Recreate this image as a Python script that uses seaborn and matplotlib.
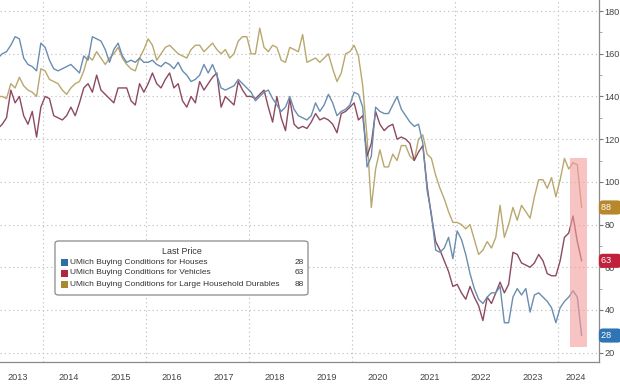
import numpy as np
import pandas as pd
import matplotlib
matplotlib.use("Agg")
import matplotlib.pyplot as plt
from matplotlib.patches import Rectangle, FancyBboxPatch
import matplotlib.transforms as mtransforms
import seaborn as sns

# ---------------- data (monthly, Feb 2013 .. Jun 2024) ----------------
start_year, start_month = 2013, 2

houses = [
    158, 160, 161, 164, 168, 167, 158, 155, 154, 152, 165,
    163, 157, 153, 152, 153, 154, 155, 153, 151, 159, 157, 168,
    167, 166, 162, 156, 162, 165, 159, 156, 157, 156, 158, 156,
    156, 157, 155, 154, 156, 155, 153, 156, 152, 150, 147, 148,
    150, 155, 151, 155, 150, 144, 143, 144, 145, 148, 146, 144,
    142, 138, 140, 142, 143, 139, 136, 133, 135, 140, 134, 131,
    130, 129, 131, 137, 133, 136, 141, 137, 131, 133, 134, 136,
    142, 141, 135, 107, 112, 135, 133, 132, 132, 136, 140, 134,
    131, 128, 126, 127, 118, 96, 85, 68, 67, 69, 74, 64,
    77, 73, 66, 57, 50, 45, 43, 46, 48, 48, 51, 34,
    34, 46, 50, 47, 50, 39, 47, 48, 46, 44, 41, 34,
    41, 44, 46, 49, 46, 28,
]

vehicles = [
    125, 127, 130, 143, 137, 140, 131, 127, 133, 121, 135,
    140, 139, 131, 130, 129, 131, 135, 131, 137, 144, 146, 142,
    150, 143, 141, 139, 137, 144, 144, 144, 138, 136, 146, 142,
    146, 151, 146, 144, 148, 151, 144, 146, 138, 135, 140, 137,
    147, 143, 146, 149, 151, 135, 140, 138, 136, 147, 143, 140,
    140, 139, 141, 143, 135, 128, 140, 130, 124, 139, 127, 125,
    126, 125, 128, 132, 129, 130, 129, 127, 123, 132, 133, 135,
    137, 129, 131, 112, 118, 133, 127, 124, 126, 127, 120, 121,
    120, 118, 110, 114, 117, 98, 84, 72, 68, 63, 58, 51,
    52, 48, 45, 51, 46, 42, 35, 46, 43, 48, 53, 48,
    52, 67, 66, 62, 61, 60, 62, 66, 63, 57, 56, 56,
    63, 74, 76, 84, 72, 63,
]

durables = [
    140, 140, 139, 146, 144, 149, 145, 143, 142, 140, 153,
    152, 148, 147, 146, 143, 141, 144, 146, 147, 152, 159, 157,
    161, 158, 155, 158, 160, 163, 158, 155, 153, 152, 158, 162,
    167, 164, 157, 160, 163, 164, 162, 160, 159, 158, 162, 164,
    164, 161, 163, 165, 162, 160, 162, 158, 160, 166, 168, 168,
    160, 160, 172, 163, 161, 164, 163, 157, 156, 163, 162, 161,
    169, 156, 157, 158, 156, 158, 160, 153, 147, 151, 160, 161,
    164, 159, 145, 121, 88, 106, 115, 107, 107, 113, 110, 117,
    117, 112, 110, 120, 122, 113, 111, 103, 97, 92, 86, 81,
    81, 80, 78, 80, 73, 66, 68, 72, 69, 74, 89, 74,
    80, 88, 82, 89, 86, 83, 93, 101, 101, 97, 102, 93,
    101, 111, 106, 109, 108, 88,
]

series_names = [
    "UMich Buying Conditions for Houses",
    "UMich Buying Conditions for Vehicles",
    "UMich Buying Conditions for Large Household Durables",
]
last_values = ["28", "63", "88"]
year_labels = [str(y) for y in range(2013, 2025)]
yticks = list(range(20, 181, 20))

# ---------------- styling ----------------
line_colors = ["#6a8db0", "#8c4a62", "#b8a86e"]
key_colors = ["#2e6fa6", "#b3253d", "#a8892e"]
box_colors = ["#2f74b5", "#c0223b", "#b8862b"]

n = len(houses)
t = np.array([start_year + (start_month - 1 + i + 0.5) / 12.0 for i in range(n)])

df = pd.concat([
    pd.DataFrame({"t": t, "value": vals, "series": name})
    for name, vals in zip(series_names, [houses, vehicles, durables])
], ignore_index=True)

sns.set_style("white")
plt.rcParams["font.family"] = ["Liberation Sans", "DejaVu Sans"]

W, H = 620, 388
fig = plt.figure(figsize=(W / 100, H / 100), dpi=100)
ax = fig.add_axes([0, 26 / H, 599 / W, 362 / H])

# grid
for yv in yticks:
    ax.axhline(yv, color="#c4c4c4", lw=0.8, ls=(0, (1.2, 2.6)), zorder=0)
for yr in range(2014, 2025, 2):
    ax.axvline(yr, color="#c4c4c4", lw=0.8, ls=(0, (1.2, 2.6)), zorder=0)

sns.lineplot(data=df, x="t", y="value", hue="series",
             palette=dict(zip(series_names, line_colors)),
             hue_order=series_names[::-1],
             linewidth=1.0, legend=False, ax=ax, estimator=None, sort=False)

# highlight box
ax.add_patch(Rectangle((2024.23, 22.5), 0.33, 88.5, facecolor="#f29c9c",
                       edgecolor="none", alpha=0.6, zorder=5))

ax.set_xlim(2013.165, 2024.796)
ax.set_ylim(15.6, 185.2)
ax.set_xlabel("")
ax.set_ylabel("")

# axes / spines
for s in ["top", "left"]:
    ax.spines[s].set_visible(False)
for s in ["right", "bottom"]:
    ax.spines[s].set_color("#8a8a8a")
    ax.spines[s].set_linewidth(0.9)

ax.yaxis.tick_right()
ax.set_yticks(yticks)
ax.set_yticks(list(range(30, 180, 20)), minor=True)
ax.tick_params(axis="y", which="major", direction="out", length=3, width=0.8,
               color="#777777", labelsize=6.6, labelcolor="#444444", pad=1)
ax.tick_params(axis="y", which="minor", direction="out", length=2, width=0.6,
               color="#999999")

ax.set_xticks(list(range(2014, 2025)))
ax.set_xticklabels([])
year_pos = [y + 0.5 for y in range(2013, 2024)] + [2024.35]
ax.set_xticks(year_pos, minor=True)
ax.set_xticklabels(year_labels, minor=True)
ax.tick_params(axis="x", which="major", direction="out", length=19, width=0.8,
               color="#9a9a9a")
ax.tick_params(axis="x", which="minor", length=0, labelsize=6.6,
               labelcolor="#444444", pad=8)

# last-value boxes at right axis
trans = mtransforms.blended_transform_factory(ax.transAxes, ax.transData)
for val, col in zip(last_values, box_colors):
    ax.text(1.004, float(val), f"{val}   ", transform=trans, ha="left", va="center",
            fontsize=6.6, color="white", zorder=10, clip_on=False,
            bbox=dict(boxstyle="round,pad=0.28,rounding_size=0.45",
                      facecolor=col, edgecolor="none"))

# legend (drawn manually)
lx0, lx1, ly0, ly1 = 55, 308, 241, 295
fig.patches.append(FancyBboxPatch((lx0 / W, 1 - ly1 / H), (lx1 - lx0) / W, (ly1 - ly0) / H,
                                  boxstyle="round,pad=0,rounding_size=0.006",
                                  transform=fig.transFigure, facecolor="white",
                                  edgecolor="#8a8a8a", linewidth=0.9, zorder=20))
fig.text((lx0 + lx1) / 2 / W, 1 - 251 / H, "Last Price", ha="center", va="center",
         fontsize=6.4, color="#333333", zorder=21)
for i, (name, val, kc) in enumerate(zip(series_names, last_values, key_colors)):
    yc = 262 + 11 * i
    fig.patches.append(Rectangle((61 / W, 1 - (yc + 3.5) / H), 7 / W, 7 / H,
                                 transform=fig.transFigure, facecolor=kc,
                                 edgecolor="none", zorder=21))
    fig.text(70 / W, 1 - yc / H, name, ha="left", va="center", fontsize=6.0,
             color="#333333", zorder=21)
    fig.text(304 / W, 1 - yc / H, val, ha="right", va="center", fontsize=6.0,
             color="#333333", zorder=21)

fig.savefig("out.png", dpi=100)
